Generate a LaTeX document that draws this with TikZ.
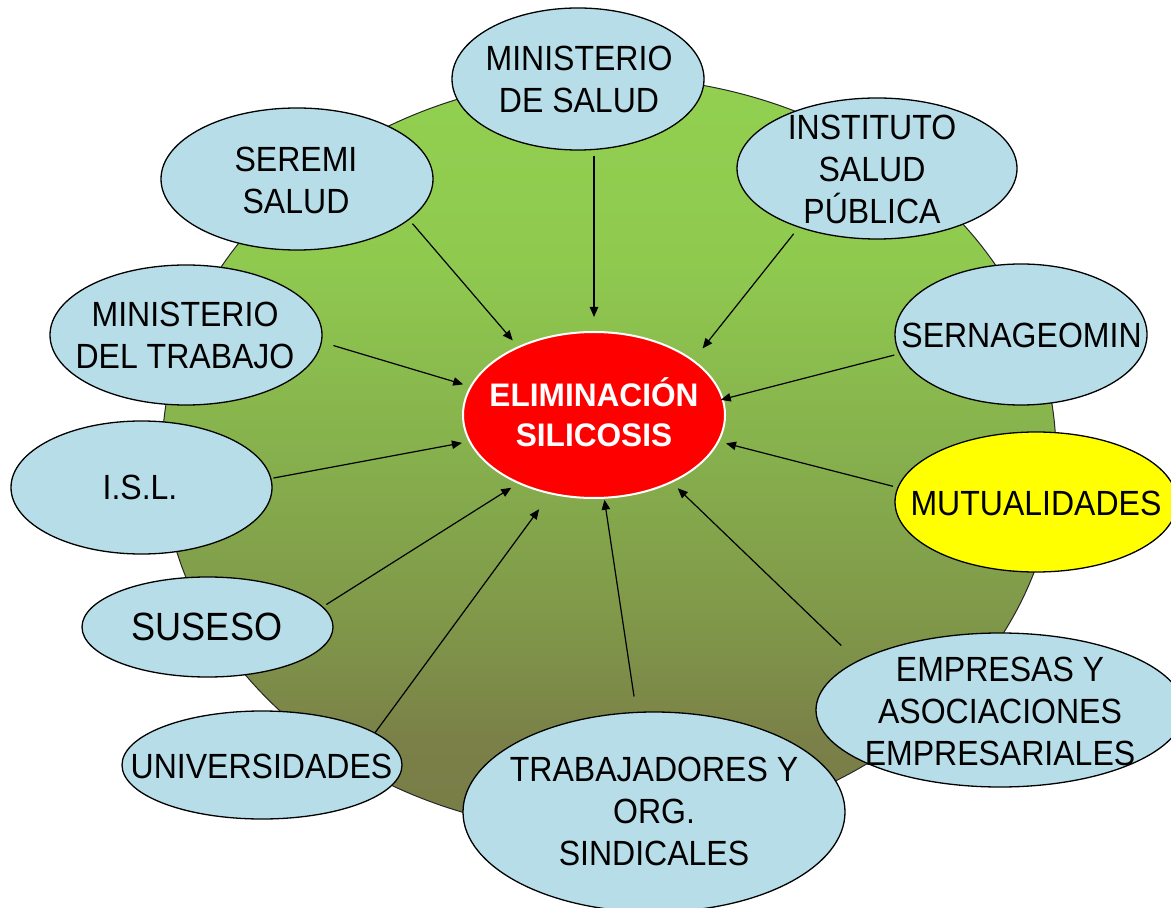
\documentclass[tikz,border=0pt]{standalone}
\usepackage{fontspec}
\setmainfont{Liberation Sans}[FakeStretch=0.915]
\newfontfamily\ctrfont{Liberation Sans}[FakeStretch=0.97]
\usetikzlibrary{shapes.geometric,arrows.meta}
\definecolor{lblue}{HTML}{B7DEE8}
\definecolor{gz}{HTML}{92D050}
\definecolor{ga}{HTML}{8FCA4F}
\definecolor{gb}{HTML}{87B24D}
\definecolor{gc}{HTML}{7F9549}
\definecolor{gd}{HTML}{7A8048}
\definecolor{ge}{HTML}{797C47}
\definecolor{yel}{HTML}{FFFF00}
\pgfdeclareverticalshading{greenbg}{100bp}{color(0bp)=(ge); color(25bp)=(ge); color(31bp)=(gd); color(38bp)=(gc); color(51bp)=(gb); color(63bp)=(ga); color(75bp)=(gz); color(100bp)=(gz)}
\tikzset{
  ell/.style={ellipse, draw=black, line width=0.65pt, fill=lblue, inner sep=0pt},
  txt/.style={align=center, inner sep=0pt, font=\fontsize{17.5}{21}\selectfont},
  arr/.style={draw=black, line width=0.6pt, -{Triangle[length=5pt,width=4.2pt]}}
}
\begin{document}
\begin{tikzpicture}[x=0.5pt,y=-0.5pt]
\useasboundingbox (0,0) rectangle (1171,908);
% background ellipse
\node[ellipse, shade, shading=greenbg, draw=black!85, line width=0.5pt, inner sep=0pt,
      minimum width=447pt, minimum height=378pt] (bg) at (609,455) {};
% centre
\node[ellipse, fill=red, draw=white, line width=1pt, inner sep=0pt,
      minimum width=131pt, minimum height=83pt] (center) at (594,415) {};
\node[align=center, inner sep=0pt, text=white, font=\ctrfont\bfseries\fontsize{16.3}{20}\selectfont] (center-t) at (594,415) {ELIMINACI\smash{Ó}N\\SILICOSIS};
% outer nodes
\node[ell, minimum width=126pt, minimum height=71pt] (minsal) at (578,79) {};
\node[txt] (minsal-t) at (579,79) {MINISTERIO\\DE SALUD};
\node[ell, minimum width=136pt, minimum height=71pt] (seremi) at (297,179) {};
\node[txt] (seremi-t) at (296,180) {SEREMI\\SALUD};
\node[ell, minimum width=140pt, minimum height=70.5pt] (isp) at (877,168.5) {};
\node[txt] (isp-t) at (872,169.5) {INSTITUTO\\SALUD\\PÚBLICA};
\node[ell, minimum width=126pt, minimum height=70.5pt] (sern) at (1021,334.5) {};
\node[txt] (sern-t) at (1021.5,335) {SERNAGEOMIN};
\node[ell, fill=yel, minimum width=141pt, minimum height=70pt] (mut) at (1036,502) {};
\node[txt] (mut-t) at (1036,503) {MUTUALIDADES};
\node[ell, minimum width=184pt, minimum height=77pt] (emp) at (1000,710) {};
\node[txt] (emp-t) at (1000,711.5) {EMPRESAS Y\\ASOCIACIONES\\EMPRESARIALES};
\node[ell, minimum width=191pt, minimum height=100pt] (trab) at (654,812) {};
\node[txt] (trab-t) at (654,811.5) {TRABAJADORES Y\\ORG.\\SINDICALES};
\node[ell, minimum width=140pt, minimum height=54pt] (univ) at (262,765) {};
\node[txt] (univ-t) at (261.5,766) {UNIVERSIDADES};
\node[ell, minimum width=125.5pt, minimum height=50pt] (suseso) at (207.5,627) {};
\node[txt, font=\fontsize{19.7}{23}\selectfont] (suseso-t) at (207,627) {SUSESO};
\node[ell, minimum width=130.5pt, minimum height=66.5pt] (isl) at (141.5,487.5) {};
\node[txt] (isl-t) at (140,487) {I.S.L.};
\node[ell, minimum width=136pt, minimum height=70pt] (mt) at (186,335) {};
\node[txt] (mt-t) at (185,335) {MINISTERIO\\DEL TRABAJO};
% connectors
\draw[arr, shorten <=2.5pt, shorten >=7pt] (minsal.south -| center.north) -- (center.north);
\draw[arr, shorten <=2.5pt, shorten >=3.9pt] (seremi.-20.3) -- (center.138);
\draw[arr, shorten <=4pt, shorten >=7.3pt] (isp.217.1) -- (center.29.4);
\draw[arr, shorten <=2.5pt, shorten >=-1.5pt] (sern.189.2) -- (center.7.4);
\draw[arr, shorten <=2.3pt, shorten >=3.5pt] (mut.174.4) -- (center.-12.06);
\draw[arr, shorten <=11pt, shorten >=4pt] (emp.161.6) -- (center.-41.7);
\draw[arr, shorten <=7.75pt, shorten >=0.5pt] (trab.100.35) -- (center.-83.1);
\draw[arr, shorten >=9.3pt] (univ.16.56) -- (center.241.8);
\draw[arr, shorten <=2pt, shorten >=3.9pt] (suseso.10.6) -- (center.222.03);
\draw[arr, shorten <=1pt, shorten >=3.5pt] (isl.4.6) -- (center.192.06);
\draw[arr, shorten <=6pt, shorten >=3.5pt] (mt.-3.89) -- (center.167.94);
\end{tikzpicture}
\end{document}
